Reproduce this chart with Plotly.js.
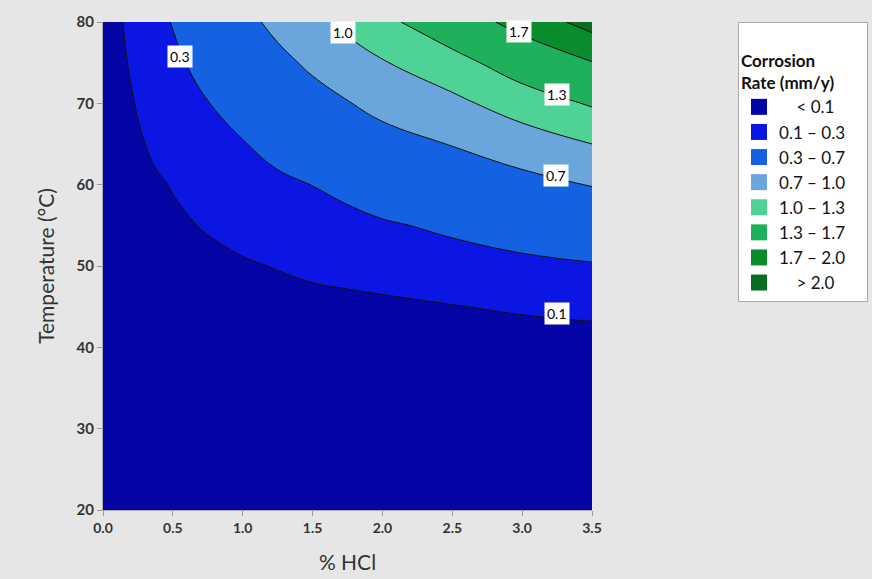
<!DOCTYPE html>
<html>
<head>
<meta charset="utf-8">
<script src="https://cdn.plot.ly/plotly-3.0.1.min.js"></script>
<style>html,body{margin:0;padding:0;background:#e6e6e6;}#chart{width:872px;height:579px;}</style>
</head>
<body>
<div id="chart"></div>
<script>
// % HCl grid (x) and temperature grid (y, °C)
const hcl = [0, 0.125, 0.25, 0.375, 0.5, 0.75, 1.0, 1.25, 1.5, 1.75, 2.0, 2.5, 3.0, 3.5];
const temp = [20, 30, 40, 45, 50, 55, 60, 65, 70, 75, 80];
// corrosion rate (mm/y), one row per temperature
const rate = [
  [0,     0,     0,     0,     0,     0,     0,     0,     0,     0,     0,     0,     0,     0    ],
  [0.001, 0.001, 0.002, 0.002, 0.002, 0.002, 0.003, 0.003, 0.003, 0.004, 0.004, 0.004, 0.005, 0.005],
  [0.002, 0.006, 0.008, 0.009, 0.010, 0.012, 0.013, 0.015, 0.016, 0.018, 0.020, 0.020, 0.020, 0.020],
  [0.004, 0.014, 0.020, 0.025, 0.030, 0.035, 0.040, 0.050, 0.055, 0.060, 0.070, 0.094, 0.120, 0.145],
  [0.005, 0.022, 0.035, 0.045, 0.055, 0.070, 0.085, 0.106, 0.131, 0.152, 0.170, 0.210, 0.247, 0.280],
  [0.007, 0.030, 0.050, 0.065, 0.080, 0.109, 0.148, 0.184, 0.216, 0.230, 0.275, 0.340, 0.415, 0.490],
  [0.009, 0.040, 0.065, 0.085, 0.106, 0.170, 0.218, 0.261, 0.303, 0.367, 0.430, 0.530, 0.610, 0.710],
  [0.011, 0.050, 0.085, 0.121, 0.161, 0.232, 0.289, 0.366, 0.450, 0.527, 0.600, 0.710, 0.850, 1.000],
  [0.014, 0.062, 0.109, 0.161, 0.209, 0.294, 0.395, 0.497, 0.597, 0.687, 0.780, 0.930, 1.140, 1.330],
  [0.017, 0.075, 0.137, 0.200, 0.257, 0.376, 0.507, 0.630, 0.750, 0.870, 0.980, 1.190, 1.470, 1.690],
  [0.020, 0.090, 0.165, 0.240, 0.310, 0.460, 0.620, 0.770, 0.920, 1.070, 1.220, 1.520, 1.810, 2.110]
];
const levels = [0.1, 0.3, 0.7, 1.0, 1.3, 1.7, 2.0];
const bandNames = ['\u00a0\u00a0\u00a0\u00a0< 0.1', '0.1 \u2013 0.3', '0.3 \u2013 0.7', '0.7 \u2013 1.0',
                   '1.0 \u2013 1.3', '1.3 \u2013 1.7', '1.7 \u2013 2.0', '\u00a0\u00a0\u00a0\u00a0> 2.0'];
const bandColors = ['#0505a6', '#0c16e2', '#1462e2', '#6aa6dc', '#4fd296', '#1fb05c', '#0a8c2c', '#066e1e'];
// contour label text and where the label boxes sit
const labelText = ['0.3', '1.0', '1.7', '1.3', '0.7', '0.1'];
const labelX = [0.55, 1.72, 2.98, 3.25, 3.24, 3.25];
const labelY = [75.7, 78.7, 78.8, 71.1, 61.1, 44.1];

const font = 'Lato, "Open Sans", sans-serif';
const traces = [];
levels.forEach((lv, i) => {
  traces.push({
    type: 'contour', x: hcl, y: temp, z: rate,
    contours: {type: 'constraint', operation: '<', value: lv},
    fillcolor: bandColors[i + 1],
    line: {color: '#111', width: 1, smoothing: 1.2},
    showscale: false, showlegend: false, hoverinfo: 'skip'
  });
});
bandNames.forEach((nm, i) => {
  traces.push({
    type: 'scatter', mode: 'markers', x: [null], y: [null], name: nm,
    marker: {symbol: 'square', size: 18, color: bandColors[i]},
    showlegend: true
  });
});

const annotations = labelText.map((t, i) => ({
  x: labelX[i], y: labelY[i], xref: 'x', yref: 'y', text: t, showarrow: false,
  bgcolor: '#ffffff', borderpad: 2, font: {family: font, size: 14, color: '#000'}
}));

const layout = {
  width: 872, height: 579,
  paper_bgcolor: '#e6e6e6', plot_bgcolor: bandColors[0],
  margin: {l: 103, r: 280, t: 22, b: 69, autoexpand: false},
  font: {family: font, color: '#333'},
  xaxis: {
    range: [0, 3.5], tickvals: [0, 0.5, 1, 1.5, 2, 2.5, 3, 3.5], tickformat: '.1f',
    showgrid: false, zeroline: false, ticks: 'outside', ticklen: 5, tickcolor: '#999',
    showline: true, linecolor: '#aaa',
    tickfont: {family: font, size: 14, weight: 'bold', color: '#333'},
    title: {text: '% HCl', font: {family: font, size: 21, color: '#333'}, standoff: 20}
  },
  yaxis: {
    range: [20, 80], tickvals: [20, 30, 40, 50, 60, 70, 80],
    showgrid: false, zeroline: false, ticks: 'outside', ticklen: 5, tickcolor: '#999',
    showline: true, linecolor: '#aaa',
    tickfont: {family: font, size: 15, weight: 'bold', color: '#333'},
    title: {text: 'Temperature (°C)', font: {family: font, size: 21, color: '#333'}, standoff: 16}
  },
  legend: {
    x: 1.2986, y: 1.0, xanchor: 'left', yanchor: 'top',
    bgcolor: '#ffffff', bordercolor: '#aaa', borderwidth: 1,
    font: {family: font, size: 17, color: '#111'},
    title: {text: '\u00a0<br><b>Corrosion<br>Rate (mm/y)</b>\u00a0\u00a0\u00a0\u00a0\u00a0\u00a0\u00a0', font: {family: font, size: 17, color: '#111'}},
    tracegroupgap: 0, itemsizing: 'trace'
  },
  annotations: annotations,
  showlegend: true
};
Plotly.newPlot('chart', traces, layout, {displayModeBar: false, staticPlot: true});
</script>
</body>
</html>
